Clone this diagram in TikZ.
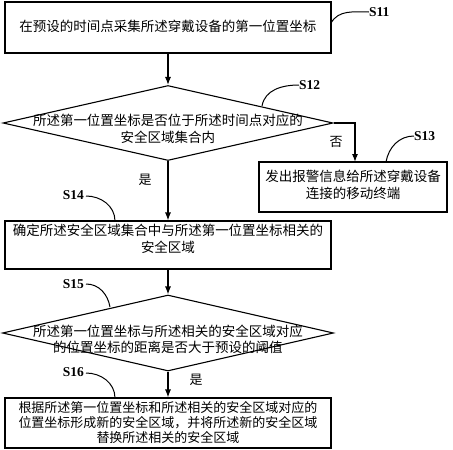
\documentclass[tikz,border=0pt]{standalone}
\usepackage{fontspec}
\setmainfont{Liberation Serif}
\newfontfamily\cjk{Noto Sans CJK SC}
\usetikzlibrary{arrows.meta,shapes.geometric}
\begin{document}
\begin{tikzpicture}[x=1pt,y=-1pt,
  box/.style={draw,line width=1.1pt,inner sep=0pt},
  dia/.style={draw,diamond,line width=1.1pt,inner sep=0pt},
  txt/.style={align=center,inner sep=0pt,font=\cjk\fontsize{13.5}{16.5}\selectfont},
  yn/.style={inner sep=0pt,font=\cjk\fontsize{13}{16}\selectfont},
  lab/.style={inner sep=0pt,font=\bfseries\fontsize{13.5}{15}\selectfont},
  arr/.style={line width=1.1pt,-{Latex[length=8pt,width=6pt]}},
  lead/.style={line width=1pt}]
\useasboundingbox (0,0) rectangle (453,450);
% boxes and diamonds
\node[box,minimum width=326pt,minimum height=51pt] (s11) at (168,27.5) {};
\node[txt] (t11) at (168,26) {在预设的时间点采集所述穿戴设备的第一位置坐标};
\node[dia,minimum width=330pt,minimum height=75pt] (s12) at (168,123) {};
\node[txt] (t12) at (168,129) {所述第一位置坐标是否位于所述时间点对应的\\安全区域集合内};
\node[box,minimum width=188pt,minimum height=50pt] (s13) at (353,187) {};
\node[txt] (t13) at (353,185) {发出报警信息给所述穿戴设备\\连接的移动终端};
\node[box,minimum width=326pt,minimum height=48pt] (s14) at (168,245) {};
\node[txt] (t14) at (168,239) {确定所述安全区域集合中与所述第一位置坐标相关的\\安全区域};
\node[dia,minimum width=331pt,minimum height=76pt] (s15) at (168,333) {};
\node[txt] (t15) at (168,339.5) {所述第一位置坐标与所述相关的安全区域对应\\的位置坐标的距离是否大于预设的阈值};
\node[box,minimum width=326pt,minimum height=50pt] (s16) at (168,423) {};
\node[txt,font=\cjk\fontsize{13}{15}\selectfont] (t16) at (168,422) {根据所述第一位置坐标和所述相关的安全区域对应的\\位置坐标形成新的安全区域，并将所述新的安全区域\\替换所述相关的安全区域};
% yes/no
\node[yn] (no1) at (336,142) {否};
\node[yn] (yes1) at (145,180) {是};
\node[yn] (yes2) at (196,380) {是};
% connectors
\draw[arr] (s11.south) -- (s12.north);
\coordinate (c13) at (355,162);
\draw[arr] (s12.east) -| (c13);
\draw[arr] (s12.south) -- (s14.north);
\draw[arr] (s14.south) -- (s15.north);
\draw[arr] (s15.south) -- (s16.north);
% step labels
\node[lab,anchor=west] (l11) at (369,12) {S11};
\node[lab,anchor=west] (l12) at (299,85) {S12};
\node[lab,anchor=west] (l13) at (414,136) {S13};
\node[lab,anchor=east] (l14) at (84,195) {S14};
\node[lab,anchor=east] (l15) at (84,284) {S15};
\node[lab,anchor=east] (l16) at (84,372) {S16};
\draw[lead] (331,23) to[out=60,in=180] (l11.west);
\draw[lead] (262,106) to[out=80,in=180] (l12.west);
\draw[lead] (386,162) to[out=80,in=180] (l13.west);
\draw[lead] (l14.east) ++(2,1) to[out=0,in=90] (115,221);
\draw[lead] (l15.east) ++(2,0) to[out=0,in=100] (110,307);
\draw[lead] (l16.east) ++(2,1) to[out=0,in=90] (115,398);
\end{tikzpicture}
\end{document}
